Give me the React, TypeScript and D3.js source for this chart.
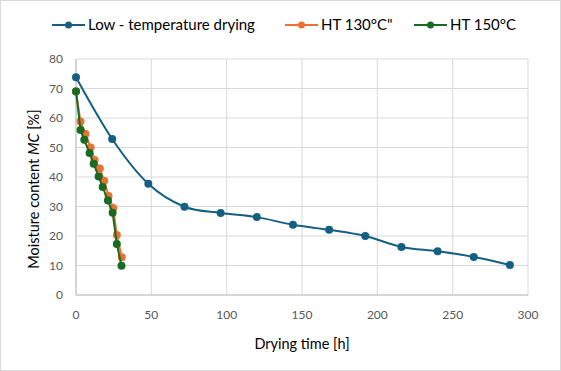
import React from "react";
import * as d3 from "d3";

const lowTime = [0, 24, 48, 72, 96, 120, 144, 168, 192, 216, 240, 264, 288];
const lowMC = [73.8, 52.9, 37.7, 29.9, 27.8, 26.4, 23.8, 22.1, 20.0, 16.3, 14.8, 12.9, 10.2];
const ht130Time = [0, 3, 6.3, 9.7, 12.3, 15.8, 18.7, 21.6, 24.7, 27.1, 30.4];
const ht130MC = [69.1, 58.8, 54.6, 50.0, 45.8, 42.9, 38.7, 33.6, 29.5, 20.3, 12.8];
const ht150Time = [0, 3, 5.5, 9, 11.7, 15, 17.7, 21.2, 24.3, 27.1, 30.2];
const ht150MC = [69.0, 55.9, 52.6, 48.1, 44.5, 40.2, 36.6, 32.0, 27.9, 17.3, 9.9];
const xTicks = [0, 50, 100, 150, 200, 250, 300];
const yTicks = [0, 10, 20, 30, 40, 50, 60, 70, 80];

const series = [
  { name: "Low - temperature drying", color: "#156082", t: lowTime, v: lowMC, smooth: true },
  { name: "HT 130°C\"", color: "#E97132", t: ht130Time, v: ht130MC, smooth: false },
  { name: "HT 150°C", color: "#196B24", t: ht150Time, v: ht150MC, smooth: false },
];

const W = 561, H = 371;
const FONT = "Lato, 'Open Sans', sans-serif";

export default function App() {
  const x = d3.scaleLinear().domain([0, 300]).range([76, 528]);
  const y = d3.scaleLinear().domain([0, 80]).range([295, 59]);

  const legendX = [52, 285, 414];

  return (
    <svg width={W} height={H} style={{ position: "absolute", left: 0, top: 0, background: "#fff" }} fontFamily={FONT}>
      <rect x={0.5} y={0.5} width={W - 1} height={H - 1} fill="#fff" stroke="#d9d9d9" />
      {yTicks.map((t) => (
        <line key={"gy" + t} x1={x(0)} x2={x(300)} y1={y(t)} y2={y(t)} stroke="#d9d9d9" strokeWidth={1} />
      ))}
      {xTicks.map((t) => (
        <line key={"gx" + t} x1={x(t)} x2={x(t)} y1={y(0)} y2={y(80)} stroke="#d9d9d9" strokeWidth={1} />
      ))}
      <line x1={x(0)} x2={x(0)} y1={y(0)} y2={y(80)} stroke="#bfbfbf" />
      <line x1={x(0)} x2={x(300)} y1={y(0)} y2={y(0)} stroke="#bfbfbf" />
      {yTicks.map((t) => (
        <text key={"ty" + t} x={63} y={y(t)} dy="0.35em" textAnchor="end" fontSize={12} fill="#595959">{t}</text>
      ))}
      {xTicks.map((t) => (
        <text key={"tx" + t} x={x(t)} y={315} dy="0.35em" textAnchor="middle" fontSize={12} fill="#595959">{t}</text>
      ))}
      <text x={x(150)} y={344} dy="0.35em" textAnchor="middle" fontSize={14.5} fill="#000">Drying time [h]</text>
      <text transform={`translate(34,189) rotate(-90)`} textAnchor="middle" dy="0.35em" fontSize={14.5} fill="#000">
        Moisture content <tspan fontStyle="italic">MC</tspan> [%]
      </text>
      {series.map((s) => {
        const pts: [number, number][] = s.t.map((t, i) => [x(t), y(s.v[i])]);
        const line = d3.line().curve(s.smooth ? d3.curveCardinal.tension(0) : d3.curveLinear)(pts) || "";
        return (
          <g key={s.name}>
            <path d={line} fill="none" stroke={s.color} strokeWidth={2} />
            {pts.map((p, i) => (
              <circle key={i} cx={p[0]} cy={p[1]} r={4} fill={s.color} />
            ))}
          </g>
        );
      })}
      {series.map((s, i) => (
        <g key={"lg" + i}>
          <line x1={legendX[i]} x2={legendX[i] + 33} y1={25} y2={25} stroke={s.color} strokeWidth={2} />
          <circle cx={legendX[i] + 16.5} cy={25} r={3.5} fill={s.color} />
          <text x={legendX[i] + 36} y={25} dy="0.35em" fontSize={15} fill="#000">{s.name}</text>
        </g>
      ))}
    </svg>
  );
}
